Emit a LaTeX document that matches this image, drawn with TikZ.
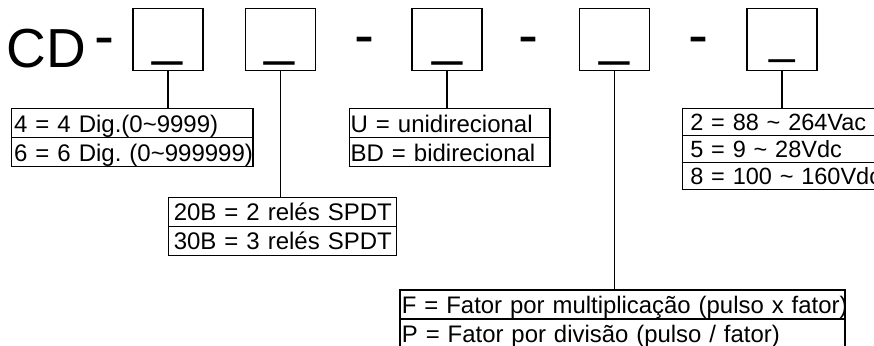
\documentclass[tikz,border=0pt]{standalone}
\usepackage{fontspec}
\setmainfont{Liberation Sans}
\newcommand{\fs}[1]{\fontsize{#1}{#1}\selectfont}
\frenchspacing
\begin{document}
\begin{tikzpicture}[x=1pt,y=-1pt,
  ln/.style={line width=1.2pt},
  topbox/.style={draw, ln, anchor=north, minimum width=70pt, minimum height=62.3pt, inner sep=0pt},
  bar/.style={anchor=base, inner sep=0pt, font=\fs{#1}},
  hy/.style={anchor=base, inner sep=0pt, font=\fs{60}},
  rowbox/.style n args={4}{draw, ln, anchor=north west, inner ysep=0pt, inner xsep=#2,
     text width=#1, align=left, text height=#3, text depth=#4, font=\fs{24}},
]
\useasboundingbox (0,0) rectangle (874,345);
% title and separators
\node[anchor=base west, inner sep=0pt, font=\fs{55}] (cd) at (6.3,67.5) {CD};
\node[hy] (h0) at (104.9,56.4) {-};
\node[hy] (h1) at (364.5,56) {-};
\node[hy] (h2) at (528.5,56) {-};
\node[hy] (h3) at (698,56) {-};
% code boxes
\node[topbox] (b1) at (168,7.7) {};
\node[topbox] (b2) at (280.5,7.7) {};
\node[topbox] (b3) at (447,7.7) {};
\node[topbox] (b4) at (614.5,7.7) {};
\node[topbox] (b5) at (782,7.7) {};
\node[bar=54] (u1) at (167.7,54) {\_};
\node[bar=54] (u2) at (279.9,54) {\_};
\node[bar=54] (u3) at (447.8,54) {\_};
\node[bar=54] (u4) at (615,54) {\_};
\node[bar=46] (u5) at (782.2,53.5) {\_};
% table 1
\node[rowbox={236.3pt}{2.5pt}{24.2pt}{5pt}] (t1a) at (11,107.7) {\mbox{4 = 4 Dig.(0\textasciitilde 9999)}};
\node[rowbox={236.3pt}{2.5pt}{24.2pt}{5pt}] (t1b) at (11,136.9) {\mbox{6 = 6 Dig. (0\textasciitilde 999999)}};
% table 2
\node[rowbox={198.3pt}{1pt}{24.2pt}{5pt}] (t2a) at (349,107.7) {\mbox{U = unidirecional}};
\node[rowbox={198.3pt}{1pt}{24.2pt}{5pt}] (t2b) at (349,136.9) {\mbox{BD = bidirecional}};
% table 3
\node[rowbox={217.3pt}{5.5pt}{23.2pt}{6pt}] (t3a) at (167.7,196.7) {\mbox{20B = 2 relés SPDT}};
\node[rowbox={217.3pt}{5.5pt}{23.2pt}{6pt}] (t3b) at (167.7,225.9) {\mbox{30B = 3 relés SPDT}};
% table 4
\node[rowbox={441pt}{2pt}{24pt}{5pt}, font=\fs{23.9}] (t4a) at (399.3,289.3) {\mbox{F = Fator por multiplicação (pulso x fator)}};
\node[rowbox={441pt}{2pt}{24pt}{5pt}, font=\fs{23.9}] (t4b) at (399.3,318.3) {\mbox{P = Fator por divisão (pulso / fator)}};
% table 5
\node[rowbox={194pt}{8pt}{22.1pt}{5pt}, font=\fs{23.5}] (t5a) at (681.7,107.7) {\mbox{2 = 88 \textasciitilde{} 264Vac}};
\node[rowbox={194pt}{8pt}{22.1pt}{5pt}, font=\fs{23.5}] (t5b) at (681.7,134.8) {\mbox{5 = 9 \textasciitilde{} 28Vdc}};
\node[rowbox={194pt}{8pt}{22.1pt}{5pt}, font=\fs{23.5}] (t5c) at (681.7,161.9) {\mbox{8 = 100 \textasciitilde{} 160Vdc}};
% connectors
\draw[ln] (b1.south) -- (b1.south |- t1a.north);
\draw[ln] (b2.south) -- (b2.south |- t3a.north);
\draw[ln] (b3.south) -- (b3.south |- t2a.north);
\draw[ln] (b4.south) -- (b4.south |- t4a.north);
\draw[ln] (b5.south) -- (b5.south |- t5a.north);
\end{tikzpicture}
\end{document}
